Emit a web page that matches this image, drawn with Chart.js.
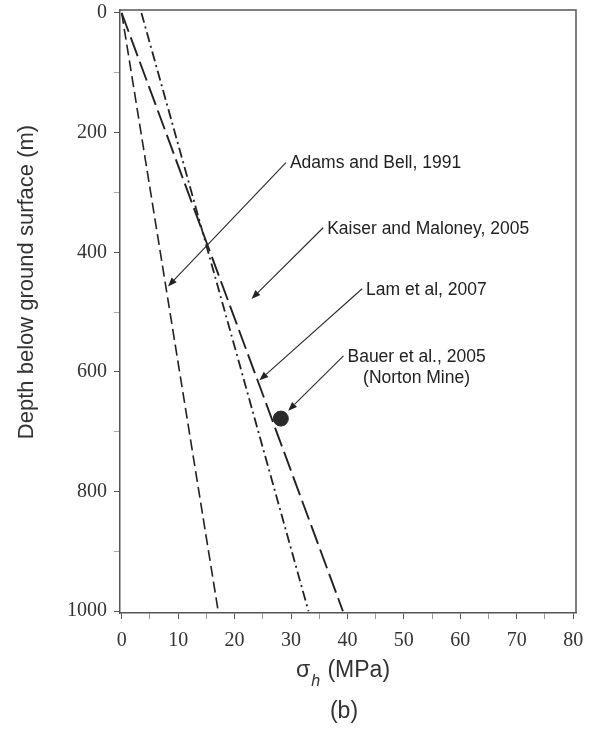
<!DOCTYPE html>
<html>
<head>
<meta charset="utf-8">
<script src="https://cdn.jsdelivr.net/npm/chart.js@4.4.1/dist/chart.umd.min.js"></script>
<style>
  html, body { margin: 0; padding: 0; background: #fff; }
  #wrap { width: 592px; height: 734px; }
</style>
</head>
<body>
<div id="wrap"><canvas id="stressChart" width="592" height="734"></canvas></div>
<script>
// depth (m) at the two ends of each trend line
const depth = [0, 1000];
// sigma_h (MPa) at those depths
const adamsBell = [0, 17.1];
const kaiserMaloney = [3.5, 33.1];
const lamEtAl = [0, 39.2];
// single measurement
const bauerStress = [28.2];
const bauerDepth = [678];

const xTicks = [0, 5, 10, 15, 20, 25, 30, 35, 40, 45, 50, 55, 60, 65, 70, 75, 80];
const yTicks = [0, 100, 200, 300, 400, 500, 600, 700, 800, 900, 1000];

// callouts: label, arrow tail and arrow head in data units (MPa, m)
const notes = [
  { text: ['Adams and Bell, 1991'], from: [29.1, 250], to: [8.2, 457] },
  { text: ['Kaiser and Maloney, 2005'], from: [35.7, 359], to: [23.0, 478] },
  { text: ['Lam et al, 2007'], from: [42.6, 461], to: [24.4, 614] },
  { text: ['Bauer et al., 2005', '(Norton Mine)'], from: [39.3, 573], to: [29.5, 665] },
];

const toPoints = (xs, ys) => xs.map((x, i) => ({ x: x, y: ys[i] }));

const SANS = '"Liberation Sans", Arial, sans-serif';
const SERIF = '"Liberation Serif", "Times New Roman", serif';
const INK = '#222';

// arrows, callout text, frame and axis titles
const decorPlugin = {
  id: 'decor',
  afterDatasetsDraw(chart) {
    const c = chart.ctx;
    const xs = chart.scales.x, ys = chart.scales.y;
    c.save();
    c.font = '17.5px ' + SANS;
    c.fillStyle = INK;
    c.strokeStyle = '#2a2a2a';
    c.lineWidth = 1.1;
    notes.forEach(n => {
      const x0 = xs.getPixelForValue(n.from[0]), y0 = ys.getPixelForValue(n.from[1]);
      const x1 = xs.getPixelForValue(n.to[0]), y1 = ys.getPixelForValue(n.to[1]);
      const ang = Math.atan2(y1 - y0, x1 - x0);
      const head = 9, half = 3.5;
      const bx = x1 - head * Math.cos(ang), by = y1 - head * Math.sin(ang);
      c.beginPath();
      c.moveTo(x0, y0);
      c.lineTo(bx, by);
      c.stroke();
      c.beginPath();
      c.moveTo(x1, y1);
      c.lineTo(bx + half * Math.sin(ang), by - half * Math.cos(ang));
      c.lineTo(bx - half * Math.sin(ang), by + half * Math.cos(ang));
      c.closePath();
      c.fill();
      // text
      c.textBaseline = 'middle';
      const w0 = c.measureText(n.text[0]).width;
      const cx = x0 + 4 + w0 / 2;
      c.textAlign = 'center';
      n.text.forEach((t, i) => c.fillText(t, cx, y0 + 1 + i * 21));
    });
    c.restore();
  },
  afterDraw(chart) {
    const c = chart.ctx;
    const a = chart.chartArea;
    c.save();
    c.strokeStyle = '#555';
    c.lineWidth = 1.5;
    c.beginPath();
    c.moveTo(a.left, a.top);
    c.lineTo(a.right, a.top);
    c.lineTo(a.right, a.bottom);
    c.stroke();

    c.fillStyle = '#333';
    // y title
    c.save();
    c.translate(27, 282);
    c.rotate(-Math.PI / 2);
    c.font = '22px ' + SANS;
    c.textAlign = 'center';
    c.textBaseline = 'middle';
    c.fillText('Depth below ground surface (m)', 0, 0);
    c.restore();

    // x title: sigma with italic subscript h
    c.textAlign = 'left';
    c.textBaseline = 'alphabetic';
    const big = '23px ' + SANS, sub = 'italic 16px ' + SANS;
    c.font = big;
    const wS = c.measureText('σ').width;
    const wR = c.measureText(' (MPa)').width;
    c.font = sub;
    const wH = c.measureText('h').width;
    let x = 343 - (wS + wH + 2 + wR) / 2;
    c.font = big;
    c.fillText('σ', x, 677);
    x += wS + 1;
    c.font = sub;
    c.fillText('h', x, 686);
    x += wH + 1;
    c.font = big;
    c.fillText(' (MPa)', x, 677);

    c.textAlign = 'center';
    c.font = '23px ' + SANS;
    c.fillText('(b)', 344, 718);
    c.restore();
  }
};

const lineStyle = (data, dash, width) => ({
  data: data,
  showLine: true,
  borderColor: INK,
  borderWidth: width,
  borderDash: dash,
  pointRadius: 0,
  fill: false,
});

const stressChart = new Chart(document.getElementById('stressChart'), {
  type: 'scatter',
  data: {
    datasets: [
      lineStyle(toPoints(adamsBell, depth), [11, 5], 1.6),
      lineStyle(toPoints(kaiserMaloney, depth), [10, 4, 2, 4], 1.8),
      lineStyle(toPoints(lamEtAl, depth), [20, 6], 1.9),
      {
        data: toPoints(bauerStress, bauerDepth),
        pointRadius: 7.5,
        pointBackgroundColor: '#2a2a2a',
        pointBorderColor: '#2a2a2a',
        showLine: false,
      },
    ],
  },
  options: {
    responsive: false,
    animation: false,
    layout: { padding: { top: 10, right: 16, left: 0, bottom: 0 } },
    plugins: {
      legend: { display: false },
      tooltip: { enabled: false },
    },
    scales: {
      x: {
        type: 'linear',
        bounds: 'data',
        min: -0.3,
        max: 80.5,
        afterBuildTicks: s => { s.ticks = xTicks.map(v => ({ value: v })); },
        afterFit: s => { s.height = 121; s.paddingLeft = 0; s.paddingRight = 0; },
        grid: {
          drawOnChartArea: false,
          tickLength: 6,
          tickColor: ctx => (ctx.tick && ctx.tick.value % 10 === 0 ? '#555' : '#999'),
        },
        border: { display: true, color: '#555', width: 1.5 },
        ticks: {
          autoSkip: false,
          maxRotation: 0,
          padding: 10,
          color: '#333',
          font: { family: SERIF, size: 20 },
          callback: v => (v % 10 === 0 ? v : ''),
        },
      },
      y: {
        type: 'linear',
        reverse: true,
        bounds: 'data',
        min: -5,
        max: 1003,
        afterBuildTicks: s => { s.ticks = yTicks.map(v => ({ value: v })); },
        afterFit: s => { s.width = 120; s.paddingTop = 0; s.paddingBottom = 0; },
        grid: {
          drawOnChartArea: false,
          tickLength: 6,
          tickColor: ctx => (ctx.tick && ctx.tick.value % 200 === 0 ? '#555' : '#aaa'),
        },
        border: { display: true, color: '#555', width: 1.5 },
        ticks: {
          autoSkip: false,
          padding: 7,
          color: '#333',
          font: { family: SERIF, size: 20 },
          callback: v => (v % 200 === 0 ? v : ''),
        },
      },
    },
  },
  plugins: [decorPlugin],
});
</script>
</body>
</html>
